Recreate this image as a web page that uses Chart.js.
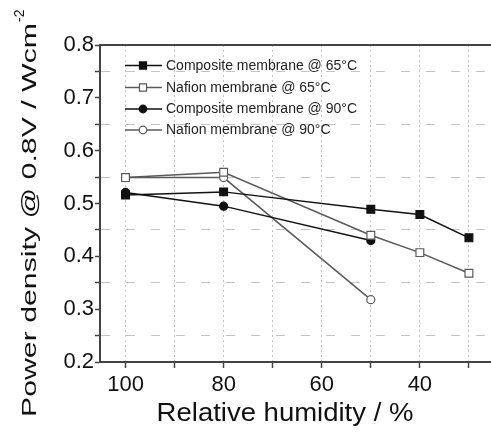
<!DOCTYPE html>
<html>
<head>
<meta charset="utf-8">
<script src="https://cdn.jsdelivr.net/npm/chart.js@4.4.0/dist/chart.umd.min.js"></script>
<style>
  body { margin: 0; background: #fff; }
  #wrap { width: 491px; height: 433px; }
</style>
</head>
<body>
<div id="wrap"><canvas id="chart" width="491" height="433"></canvas></div>
<script>
// --- data ---
const humidity65 = [100, 80, 50, 40, 30];
const humidity90 = [100, 80, 50];
const composite65 = [0.516, 0.522, 0.489, 0.479, 0.435];
const nafion65 = [0.549, 0.559, 0.440, 0.407, 0.368];
const composite90 = [0.521, 0.495, 0.430];
const nafion90 = [0.549, 0.549, 0.318];

const seriesLabels = [
  'Composite membrane @ 65°C',
  'Nafion membrane @ 65°C',
  'Composite membrane @ 90°C',
  'Nafion membrane @ 90°C'
];

const xTicks = [100, 90, 80, 70, 60, 50, 40, 30];
const xLabelTicks = [100, 80, 60, 40];
const yTicks = [0.2, 0.25, 0.3, 0.35, 0.4, 0.45, 0.5, 0.55, 0.6, 0.65, 0.7, 0.75, 0.8];

const xTitle = 'Relative humidity / %';
const yTitle = 'Power density @ 0.8V / Wcm';
const yTitleSup = '-2';

function points(xs, ys) {
  return xs.map((x, i) => ({ x: x, y: ys[i] }));
}

const isMajorY = v => Math.abs(v * 10 - Math.round(v * 10)) < 1e-6;

const DARK = '#111';
const GREY = '#5a5a5a';
const FONT = '"Liberation Sans", Arial, sans-serif';

function series(label, xs, ys, color, style, filled) {
  return {
    label: label,
    data: points(xs, ys),
    borderColor: color,
    borderWidth: 1.5,
    pointStyle: style,
    pointRadius: style === 'rect' ? 5.5 : 4,
    pointBorderWidth: 1.2,
    pointBorderColor: color,
    pointBackgroundColor: filled ? color : '#fff',
    tension: 0
  };
}

const datasets = [
  series(seriesLabels[0], humidity65, composite65, DARK, 'rect', true),
  series(seriesLabels[1], humidity65, nafion65, GREY, 'rect', false),
  series(seriesLabels[2], humidity90, composite90, DARK, 'circle', true),
  series(seriesLabels[3], humidity90, nafion90, GREY, 'circle', false)
];

// frame top line, inside legend and the (stretched) axis titles
const decorations = {
  id: 'decorations',
  afterDraw(chart) {
    const ctx = chart.ctx;
    const area = chart.chartArea;
    ctx.save();
    ctx.strokeStyle = '#444';
    ctx.lineWidth = 2;
    ctx.beginPath();
    ctx.moveTo(area.left, area.top);
    ctx.lineTo(area.right, area.top);
    ctx.stroke();

    // legend
    const x0 = 125, x1 = 162, rowY = [65.5, 87.5, 109, 130];
    ctx.font = '14px ' + FONT;
    ctx.textBaseline = 'middle';
    chart.data.datasets.forEach((ds, i) => {
      const y = rowY[i];
      ctx.strokeStyle = ds.borderColor;
      ctx.lineWidth = ds.borderWidth;
      ctx.beginPath();
      ctx.moveTo(x0, y);
      ctx.lineTo(x1, y);
      ctx.stroke();
      ctx.fillStyle = ds.pointBackgroundColor;
      ctx.strokeStyle = ds.pointBorderColor;
      ctx.lineWidth = ds.pointBorderWidth;
      Chart.helpers.drawPoint(ctx, {
        pointStyle: ds.pointStyle,
        radius: ds.pointStyle === 'rect' ? 5 : 3.8,
        borderWidth: ds.pointBorderWidth,
        rotation: 0
      }, 143, y);
      ctx.fillStyle = '#222';
      ctx.fillText(ds.label, 166, y + 0.5);
    });

    // x title
    ctx.fillStyle = '#111';
    ctx.textBaseline = 'alphabetic';
    ctx.font = '25px ' + FONT;
    ctx.save();
    ctx.translate(285, 421);
    ctx.scale(1.1, 1);
    ctx.textAlign = 'center';
    ctx.fillText(xTitle, 0, 0);
    ctx.restore();

    // y title, rotated and stretched along its length like the source
    ctx.save();
    ctx.translate(36, 417);
    ctx.rotate(-Math.PI / 2);
    ctx.font = '21px ' + FONT;
    ctx.textAlign = 'left';
    const w = ctx.measureText(yTitle).width;
    const len = 394;
    ctx.save();
    ctx.scale(len / w, 1);
    ctx.fillText(yTitle, 0, 0);
    ctx.restore();
    ctx.font = '14px ' + FONT;
    ctx.fillText(yTitleSup, len + 1, -12);
    ctx.restore();

    ctx.restore();
  }
};

new Chart(document.getElementById('chart'), {
  type: 'line',
  data: { datasets: datasets },
  options: {
    responsive: false,
    animation: false,
    layout: { autoPadding: false, padding: { top: 45, right: 0, left: 0, bottom: 0 } },
    plugins: { legend: { display: false }, tooltip: { enabled: false } },
    scales: {
      x: {
        type: 'linear',
        reverse: true,
        min: 25.5,
        max: 105.2,
        afterBuildTicks: s => { s.ticks = xTicks.map(v => ({ value: v })); },
        afterFit: s => { s.height = 71; s.paddingLeft = 0; s.paddingRight = 0; },
        ticks: {
          autoSkip: false,
          maxRotation: 0,
          padding: 4,
          color: '#111',
          font: { family: FONT, size: 22 },
          callback: v => xLabelTicks.includes(v) ? String(v) : ''
        },
        grid: {
          color: '#c4c4c4',
          lineWidth: 1,
          tickBorderDash: [],
          tickColor: '#444',
          tickWidth: 1.5,
          tickLength: 6
        },
        border: { color: '#444', width: 2, dash: [2, 3] },
        title: { display: false }
      },
      y: {
        min: 0.2,
        max: 0.8,
        afterBuildTicks: s => { s.ticks = yTicks.map(v => ({ value: v })); },
        afterFit: s => { s.width = 100; s.paddingTop = 0; s.paddingBottom = 0; },
        ticks: {
          autoSkip: false,
          padding: 1,
          color: '#111',
          font: { family: FONT, size: 22 },
          callback: v => isMajorY(v) ? v.toFixed(1) : ''
        },
        grid: {
          color: c => (c.tick && !isMajorY(c.tick.value)) ? '#c4c4c4' : 'rgba(0,0,0,0)',
          lineWidth: 1,
          tickBorderDash: [],
          tickColor: '#444',
          tickWidth: 1.5,
          tickLength: 5
        },
        border: { color: '#444', width: 2, dash: [9, 16] },
        title: { display: false }
      }
    }
  },
  plugins: [decorations]
});
</script>
</body>
</html>
